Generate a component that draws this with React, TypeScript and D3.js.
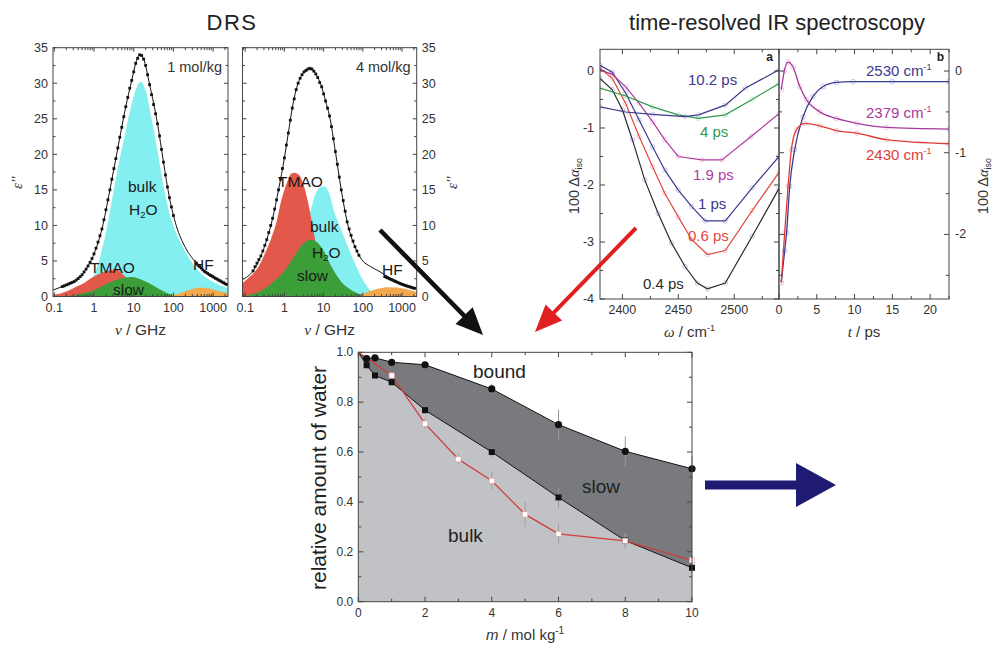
import React from "react";
import * as d3 from "d3";

type P = [number, number];

const SANS = "'Liberation Sans', Arial, Helvetica, sans-serif";
const SERIF = "'Liberation Serif', 'Times New Roman', serif";

// ---------------- DRS data: [log10(ν / GHz), ε''] ----------------
const drs1Total: P[] = [[-1.03,0.9],[-0.8,1.4],[-0.5,2.1],[-0.25,3.45],[0,6.0],[0.2,9.5],[0.4,15],[0.6,20.9],[0.8,26.7],[0.95,30.4],[1.05,32.8],[1.15,34.0],[1.25,33.4],[1.4,29.8],[1.6,24.3],[1.75,18.9],[1.9,13.9],[2.07,10],[2.3,6.9],[2.58,4.7],[2.8,3.5],[3.0,2.8],[3.2,2.1],[3.375,1.65]];
const drs1Dots: P[] = [[-0.80,1.40],[-0.75,1.50],[-0.70,1.62],[-0.65,1.74],[-0.60,1.86],[-0.55,1.98],[-0.50,2.10],[-0.45,2.30],[-0.40,2.52],[-0.35,2.78],[-0.30,3.05],[-0.25,3.45],[-0.20,3.85],[-0.15,4.30],[-0.10,4.80],[-0.05,5.35],[0.00,6.00],[0.05,6.80],[0.10,7.65],[0.15,8.55],[0.20,9.50],[0.25,10.8],[0.30,12.2],[0.35,13.6],[0.40,15.0],[0.45,16.5],[0.50,18.0],[0.55,19.4],[0.60,20.9],[0.65,22.4],[0.70,23.8],[0.75,25.3],[0.80,26.7],[0.85,28.0],[0.90,29.3],[0.95,30.4],[1.00,31.6],[1.05,32.8],[1.10,33.5],[1.15,34.0],[1.20,33.9],[1.25,33.4],[1.30,32.5],[1.35,31.2],[1.40,29.8],[1.45,28.4],[1.50,27.0],[1.55,25.7],[1.60,24.3],[1.65,22.6],[1.70,20.7],[1.75,18.9],[1.80,17.1],[1.85,15.4],[1.90,13.9],[1.95,12.6],[2.00,11.4],[2.58,4.7],[2.62,4.4],[2.66,4.2],[2.70,4.0],[2.74,3.75],[2.78,3.55],[2.82,3.4],[2.86,3.25],[2.90,3.1],[2.94,2.95],[2.98,2.85],[3.02,2.7],[3.06,2.55],[3.10,2.45],[3.14,2.3],[3.18,2.2],[3.22,2.05],[3.26,1.95],[3.30,1.8],[3.34,1.7]];
const drs1Bulk: P[] = [[-0.5,0],[-0.25,1.0],[0,3.0],[0.15,5.5],[0.3,9.0],[0.45,13.5],[0.6,18],[0.75,22],[0.9,26],[1.05,29],[1.17,30.2],[1.3,29],[1.45,25],[1.6,20.5],[1.77,15],[1.91,11.5],[2.08,8.8],[2.25,6.8],[2.42,5.2],[2.6,3.8],[2.84,2.6],[3.05,1.9],[3.26,1.4],[3.4,1.2]];
const drs1Tmao: P[] = [[-1.05,0.25],[-0.86,0.4],[-0.65,0.8],[-0.44,1.4],[-0.25,1.9],[-0.1,2.5],[0.1,3.1],[0.23,3.4],[0.4,3.7],[0.53,3.8],[0.65,3.5],[0.75,3.0],[0.85,2.4],[0.95,1.8],[1.1,1.0],[1.3,0.35],[1.5,0.05],[1.6,0]];
const drs1Slow: P[] = [[-0.7,0],[-0.4,0.3],[-0.02,0.85],[0.32,1.8],[0.65,2.5],[0.95,2.75],[1.24,2.25],[1.49,1.55],[1.75,0.75],[2.0,0.15],[2.2,0]];
const drs1Hf: P[] = [[1.85,0],[2.1,0.35],[2.42,0.95],[2.67,1.25],[3.0,1.0],[3.3,0.55],[3.4,0.45]];

const drs2Total: P[] = [[-1.07,2.4],[-0.8,3.6],[-0.6,5.7],[-0.45,8],[-0.3,11],[-0.15,15],[0,19.5],[0.1,23],[0.2,26.5],[0.3,29.1],[0.45,31.2],[0.6,32],[0.7,32],[0.8,31.3],[0.95,29.5],[1.05,27.5],[1.15,25.4],[1.3,20.4],[1.45,15],[1.6,10.5],[1.8,7],[1.97,5.2],[2.2,4.2],[2.4,3.6],[2.56,3.05],[2.8,2.3],[3.0,1.8],[3.2,1.4],[3.374,1.15]];
const drs2Dots: P[] = [[-0.80,3.6],[-0.75,4.2],[-0.70,4.7],[-0.65,5.2],[-0.60,5.7],[-0.55,6.4],[-0.50,7.2],[-0.45,8.0],[-0.40,9.0],[-0.35,10.0],[-0.30,11.0],[-0.25,12.3],[-0.20,13.6],[-0.15,15.0],[-0.10,16.5],[-0.05,18.0],[0.00,19.5],[0.05,21.3],[0.10,23.0],[0.15,24.8],[0.20,26.5],[0.25,27.8],[0.30,29.1],[0.35,30.0],[0.40,30.7],[0.45,31.2],[0.50,31.6],[0.55,31.8],[0.60,32.0],[0.65,32.1],[0.70,32.0],[0.75,31.7],[0.80,31.3],[0.85,30.8],[0.90,30.1],[0.95,29.5],[1.00,28.5],[1.05,27.5],[1.10,26.5],[1.15,25.4],[1.20,23.9],[1.25,22.2],[1.30,20.4],[1.35,18.6],[1.40,16.8],[1.45,15.0],[1.50,13.5],[1.55,12.0],[1.60,10.5],[1.65,9.5],[1.70,8.6],[1.75,7.8],[1.80,7.0],[1.85,6.4],[1.90,5.8],[2.56,2.8],[2.60,2.7],[2.64,2.6],[2.68,2.5],[2.72,2.4],[2.76,2.3],[2.80,2.2],[2.84,2.1],[2.88,2.0],[2.92,1.9],[2.96,1.8],[3.00,1.72],[3.04,1.64],[3.08,1.56],[3.12,1.48],[3.16,1.42],[3.20,1.35],[3.24,1.28],[3.28,1.2],[3.32,1.15]];
const drs2Bulk: P[] = [[-0.3,0],[0,2],[0.3,5.5],[0.5,9],[0.66,11.8],[0.78,14.3],[0.9,15.3],[1.01,15.5],[1.12,14.8],[1.29,11.6],[1.42,9.8],[1.55,7.9],[1.68,6.2],[1.8,4.6],[1.93,3.1],[2.06,1.8],[2.2,0.8],[2.35,0.2],[2.5,0]];
const drs2Tmao: P[] = [[-1.09,1.8],[-0.9,2.7],[-0.67,4.1],[-0.5,6.0],[-0.33,8.3],[-0.2,10.5],[-0.08,13.5],[0.05,15.8],[0.18,17.3],[0.25,17.4],[0.39,17.0],[0.5,15.5],[0.65,12],[0.75,9],[0.85,6],[1.0,3],[1.2,1],[1.5,0]];
const drs2Slow: P[] = [[-1.09,0.05],[-0.6,0.8],[-0.24,2.25],[0.0,3.6],[0.19,5.1],[0.44,7.2],[0.65,8.0],[0.75,7.9],[0.95,6.9],[1.21,4.1],[1.46,2.0],[1.72,0.85],[2.06,0.15],[2.3,0]];
const drs2Hf: P[] = [[1.9,0],[2.1,0.6],[2.39,1.1],[2.64,1.3],[3.07,1.1],[3.32,0.75],[3.4,0.7]];

const drsYTicks = [0, 5, 10, 15, 20, 25, 30, 35];
const drsXLabels = [0.1, 1, 10, 100, 1000];

// ---------------- IR panel a: [ω / cm-1, 100 Δα_iso] ----------------
const irA04: P[] = [[2380,-0.13],[2391,-0.33],[2400,-0.68],[2409,-1.21],[2420,-1.91],[2432,-2.5],[2444,-3.02],[2456,-3.43],[2467,-3.72],[2476,-3.82],[2492,-3.72],[2516,-2.9],[2540,-2.06]];
const irA06: P[] = [[2380,0.05],[2391,-0.13],[2403,-0.57],[2415,-1.15],[2427,-1.68],[2438,-2.15],[2450,-2.56],[2462,-2.96],[2476,-3.22],[2492,-3.15],[2516,-2.45],[2540,-1.78]];
const irA1: P[] = [[2380,0.1],[2391,-0.02],[2403,-0.39],[2415,-0.86],[2427,-1.33],[2438,-1.74],[2450,-2.09],[2462,-2.38],[2474,-2.63],[2492,-2.63],[2516,-2.05],[2540,-1.5]];
const irA19: P[] = [[2380,0.02],[2391,-0.06],[2403,-0.28],[2415,-0.57],[2427,-0.89],[2438,-1.21],[2450,-1.5],[2471,-1.56],[2489,-1.56],[2515,-1.15],[2540,-0.75]];
const irA4: P[] = [[2380,-0.3],[2403,-0.44],[2427,-0.63],[2450,-0.77],[2468,-0.83],[2492,-0.77],[2516,-0.5],[2540,-0.22]];
const irA102: P[] = [[2380,-0.63],[2403,-0.72],[2427,-0.76],[2456,-0.8],[2468,-0.77],[2492,-0.6],[2510,-0.3],[2540,0.02]];
const irADelays = ["0.4 ps", "0.6 ps", "1 ps", "1.9 ps", "4 ps", "10.2 ps"];
const irAXTicks = [2400, 2450, 2500];
const irAYTicks = [0, -1, -2, -3, -4];

// ---------------- IR panel b: [t / ps, 100 Δα_iso] ----------------
const irB2530: P[] = [[0.3,-2.59],[0.75,-2.2],[1.0,-1.98],[1.42,-1.41],[2.08,-0.96],[3.18,-0.56],[4.5,-0.31],[5.84,-0.19],[7.6,-0.14],[9.8,-0.13],[15,-0.13],[22.5,-0.13]];
const irB2379: P[] = [[0.3,-0.23],[0.7,0.0],[1.2,0.11],[1.86,0.05],[2.75,-0.19],[3.63,-0.35],[5.4,-0.5],[7.6,-0.58],[10.3,-0.64],[14.2,-0.69],[22.5,-0.71]];
const irB2430: P[] = [[0.3,-2.59],[0.75,-1.98],[1.2,-1.41],[1.64,-0.96],[2.3,-0.72],[3.4,-0.64],[5.4,-0.67],[7.6,-0.73],[10.3,-0.76],[14.2,-0.84],[22.5,-0.89]];
const irBFreqs = ["2530", "2379", "2430"];
const irBXTicks = [0, 5, 10, 15, 20];
const irBYTicks = [0, -1, -2];

// ---------------- Bottom: relative amount of water ----------------
const molality = [0, 0.25, 0.5, 1, 2, 4, 6, 8, 10];
const boundFrac = [1, 0.975, 0.978, 0.96, 0.95, 0.853, 0.71, 0.603, 0.533];
const boundErr = [0, 0, 0, 0.01, 0.01, 0.02, 0.06, 0.06, 0.05];
const slowFrac = [1, 0.948, 0.907, 0.88, 0.768, 0.6, 0.418, 0.245, 0.136];
const slowErr = [0, 0, 0, 0.01, 0.015, 0.02, 0.04, 0.03, 0.02];
const irMolality = [0, 1, 2, 3, 4, 5, 6, 8, 10];
const irFrac = [1, 0.907, 0.714, 0.571, 0.485, 0.35, 0.272, 0.244, 0.166];
const irErr = [0, 0.01, 0.02, 0.02, 0.035, 0.05, 0.04, 0.03, 0.02];
const fracTicks = [0, 0.2, 0.4, 0.6, 0.8, 1.0];
const mTicks = [0, 2, 4, 6, 8, 10];

// ---------------- helpers ----------------
type Box = { l: number; r: number; t: number; b: number };
type Tk = { p: number; major: boolean };

function tickPath(box: Box, xt: Tk[], yl: Tk[], yr: Tk[], maj = 5, min = 3) {
  let d = "";
  for (const t of xt) {
    const L = t.major ? maj : min;
    d += `M${t.p},${box.b}v${-L}M${t.p},${box.t}v${L}`;
  }
  for (const t of yl) d += `M${box.l},${t.p}h${t.major ? maj : min}`;
  for (const t of yr) d += `M${box.r},${t.p}h${-(t.major ? maj : min)}`;
  return d;
}

function linTicks(scale: d3.ScaleLinear<number, number>, lo: number, hi: number, step: number, majStep: number): Tk[] {
  const out: Tk[] = [];
  const n = Math.round((hi - lo) / step);
  for (let i = 0; i <= n; i++) {
    const v = lo + i * step;
    const r = v / majStep;
    out.push({ p: scale(v), major: Math.abs(r - Math.round(r)) < 1e-6 });
  }
  return out;
}

function arrowPath(x1: number, y1: number, x2: number, y2: number, w: number, hl: number, hw: number) {
  const dx = x2 - x1, dy = y2 - y1, L = Math.hypot(dx, dy);
  const ux = dx / L, uy = dy / L, nx = -uy, ny = ux;
  const bx = x2 - ux * hl, by = y2 - uy * hl;
  const pts = [
    [x1 + nx * w / 2, y1 + ny * w / 2], [bx + nx * w / 2, by + ny * w / 2], [bx + nx * hw / 2, by + ny * hw / 2],
    [x2, y2], [bx - nx * hw / 2, by - ny * hw / 2], [bx - nx * w / 2, by - ny * w / 2], [x1 - nx * w / 2, y1 - ny * w / 2],
  ];
  return "M" + pts.map((p) => p.map((v) => v.toFixed(1)).join(",")).join("L") + "Z";
}

const H2O = (x: number, y: number, fs: number) => (
  <text x={x} y={y} fontSize={fs} fontFamily={SANS} fill="#1a1a1a">
    H<tspan fontSize={fs * 0.62} dy={3}>2</tspan><tspan dy={-3}>O</tspan>
  </text>
);

// ---------------- DRS panel ----------------
function DrsPanel(props: {
  id: string; box: Box; dom: [number, number];
  total: P[]; dots: P[]; bulk: P[]; tmao: P[]; slow: P[]; hf: P[];
  side: "left" | "right"; conc: string;
  lab: { bulk: [number, number]; h2o: [number, number]; tmao: [number, number]; slow: [number, number]; hf: [number, number] };
}) {
  const { box, dom } = props;
  const x = d3.scaleLog().domain(dom).range([box.l, box.r]);
  const y = d3.scaleLinear().domain([0, 35]).range([box.b, box.t]);
  const fx = (d: P) => x(Math.pow(10, d[0]));
  const area = d3.area<P>().x(fx).y0(y(0)).y1((d) => y(d[1])).curve(d3.curveMonotoneX);
  const line = d3.line<P>().x(fx).y((d) => y(d[1])).curve(d3.curveMonotoneX);
  const xt: Tk[] = [];
  for (let e = -2; e <= 3; e++) for (let k = 1; k <= 9; k++) {
    const v = k * Math.pow(10, e);
    if (v >= dom[0] && v <= dom[1]) xt.push({ p: x(v), major: k === 1 });
  }
  const yt = linTicks(y, 0, 35, 2.5, 5);
  const fs = 15.5;
  return (
    <g>
      <defs>
        <clipPath id={props.id}><rect x={box.l} y={box.t} width={box.r - box.l} height={box.b - box.t} /></clipPath>
      </defs>
      <g clipPath={`url(#${props.id})`}>
        <path d={area(props.bulk) || ""} fill="#84eff0" />
        <path d={area(props.tmao) || ""} fill="#e2584b" />
        <path d={area(props.slow) || ""} fill="#3c9e38" />
        <path d={area(props.hf) || ""} fill="#f2a94e" />
        <path d={line(props.total) || ""} fill="none" stroke="#111" strokeWidth={1} />
        {props.dots.map((d, i) => (
          <rect key={i} x={fx(d) - 1.4} y={y(d[1]) - 1.4} width={2.8} height={2.8} fill="#111" />
        ))}
      </g>
      <rect x={box.l} y={box.t} width={box.r - box.l} height={box.b - box.t} fill="none" stroke="#444" strokeWidth={1} />
      <path d={tickPath(box, xt, yt, yt, 4, 2.5)} stroke="#444" strokeWidth={1} fill="none" />
      {drsXLabels.map((v) => (
        <text key={v} x={x(v)} y={box.b + 15} fontSize={12.5} fontFamily={SANS} textAnchor="middle" fill="#333">{v}</text>
      ))}
      {drsYTicks.map((v) => (
        <text key={v} x={props.side === "left" ? box.l - 5 : box.r + 5} y={y(v) + 4.5} fontSize={12.5} fontFamily={SANS}
          textAnchor={props.side === "left" ? "end" : "start"} fill="#333">{v}</text>
      ))}
      <text transform={`translate(${props.side === "left" ? 22 : box.r + 40},${y(16)}) rotate(-90)`} fontSize={15}
        fontFamily={SERIF} fontStyle="italic" textAnchor="middle" fill="#333">ε''</text>
      <text x={(box.l + box.r) / 2} y={box.b + 38} fontSize={15.5} fontFamily={SANS} textAnchor="middle" fill="#333">
        <tspan fontFamily={SERIF} fontStyle="italic">ν</tspan> / GHz
      </text>
      <text x={box.r - 6} y={box.t + 24} fontSize={14.5} fontFamily={SANS} textAnchor="end" fill="#333">{props.conc}</text>
      <text x={props.lab.bulk[0]} y={props.lab.bulk[1]} fontSize={fs} fontFamily={SANS} fill="#1a1a1a">bulk</text>
      {H2O(props.lab.h2o[0], props.lab.h2o[1], fs)}
      <text x={props.lab.tmao[0]} y={props.lab.tmao[1]} fontSize={fs} fontFamily={SANS} fill="#1a1a1a">TMAO</text>
      <text x={props.lab.slow[0]} y={props.lab.slow[1]} fontSize={fs} fontFamily={SANS} fill="#1a1a1a">slow</text>
      <text x={props.lab.hf[0]} y={props.lab.hf[1]} fontSize={fs} fontFamily={SANS} fill="#1a1a1a">HF</text>
    </g>
  );
}

// ---------------- main ----------------
export default function App() {
  // IR panel a
  const boxA: Box = { l: 600, r: 779, t: 49.3, b: 299 };
  const xA = d3.scaleLinear().domain([2380, 2540]).range([boxA.l, boxA.r]);
  const yA = d3.scaleLinear().domain([0.38, -4]).range([boxA.t, boxA.b]);
  const lineA = d3.line<P>().x((d) => xA(d[0])).y((d) => yA(d[1]));
  const seriesA = [irA04, irA06, irA1, irA19, irA4, irA102];
  const colA = ["#2b2b2b", "#e2463c", "#3a3a8e", "#b23a9f", "#2f9a4e", "#3a3a8e"];
  const markA = ["#c9c5e4", "#f5c9cf", "#c7c4e6", "#eec4ea", "#c4e6cf", "#d0cee8"];
  const labA: [number, number][] = [[643, 289], [688, 241], [698, 209], [693, 180], [700, 137], [688, 85]];

  // IR panel b
  const boxB: Box = { l: 779, r: 949, t: 49.3, b: 299 };
  const xB = d3.scaleLinear().domain([0, 22.5]).range([boxB.l, boxB.r]);
  const yB = d3.scaleLinear().domain([0.266, -2.79]).range([boxB.t, boxB.b]);
  const lineB = d3.line<P>().x((d) => xB(d[0])).y((d) => yB(d[1])).curve(d3.curveMonotoneX);
  const seriesB = [irB2530, irB2379, irB2430];
  const colB = ["#3a3a8e", "#a8399a", "#df3b36"];
  const markB = ["#c4c2e6", "#efc2e8", "#f5c8c9"];
  const labB: [number, number][] = [[866, 76], [866, 118], [866, 160]];

  // Bottom chart
  const boxC: Box = { l: 358.3, r: 692, t: 352.3, b: 601.7 };
  const xC = d3.scaleLinear().domain([0, 10]).range([boxC.l, boxC.r]);
  const yC = d3.scaleLinear().domain([0, 1]).range([boxC.b, boxC.t]);
  const rows = molality.map((m, i) => ({ m, b: boundFrac[i], s: slowFrac[i] }));
  const bulkArea = d3.area<typeof rows[0]>().x((d) => xC(d.m)).y0(yC(0)).y1((d) => yC(d.s));
  const slowArea = d3.area<typeof rows[0]>().x((d) => xC(d.m)).y0((d) => yC(d.s)).y1((d) => yC(d.b));
  const bLine = d3.line<typeof rows[0]>().x((d) => xC(d.m)).y((d) => yC(d.b));
  const sLine = d3.line<typeof rows[0]>().x((d) => xC(d.m)).y((d) => yC(d.s));
  const irRows = irMolality.map((m, i) => ({ m, f: irFrac[i] }));
  const irLine = d3.line<typeof irRows[0]>().x((d) => xC(d.m)).y((d) => yC(d.f));

  return (
    <svg width={992} height={646} style={{ position: "absolute", left: 0, top: 0, background: "#fff" }}>
      <rect width={992} height={646} fill="#fff" />
      <text x={232} y={30} fontSize={22} fontFamily={SANS} textAnchor="middle" fill="#222" letterSpacing={1.5}>DRS</text>
      <text x={777} y={30} fontSize={22} fontFamily={SANS} textAnchor="middle" fill="#222">time-resolved IR spectroscopy</text>

      <DrsPanel id="drs1" box={{ l: 53, r: 228, t: 47.7, b: 296.5 }} dom={[Math.pow(10, -1.033), Math.pow(10, 3.375)]}
        total={drs1Total} dots={drs1Dots} bulk={drs1Bulk} tmao={drs1Tmao} slow={drs1Slow} hf={drs1Hf}
        side="left" conc="1 mol/kg"
        lab={{ bulk: [128, 192], h2o: [129, 215], tmao: [90, 273], slow: [113, 295], hf: [193, 270] }} />
      <DrsPanel id="drs2" box={{ l: 242.5, r: 416.7, t: 47.7, b: 296.5 }} dom={[Math.pow(10, -1.069), Math.pow(10, 3.374)]}
        total={drs2Total} dots={drs2Dots} bulk={drs2Bulk} tmao={drs2Tmao} slow={drs2Slow} hf={drs2Hf}
        side="right" conc="4 mol/kg"
        lab={{ bulk: [310, 232], h2o: [312, 258], tmao: [278, 187], slow: [297, 281], hf: [382, 275] }} />

      {/* IR panel a */}
      <defs>
        <clipPath id="clipA"><rect x={boxA.l} y={boxA.t} width={boxA.r - boxA.l} height={boxA.b - boxA.t} /></clipPath>
        <clipPath id="clipB"><rect x={boxB.l} y={boxB.t} width={boxB.r - boxB.l} height={boxB.b - boxB.t} /></clipPath>
      </defs>
      <g clipPath="url(#clipA)">
        {seriesA.map((s, i) =>
          s.map((d, j) => (
            <circle key={`ma${i}-${j}`} cx={xA(d[0])} cy={yA(d[1])} r={2.2} fill="none" stroke={markA[i]} strokeWidth={1} />
          ))
        )}
        {seriesA.map((s, i) => (
          <path key={`la${i}`} d={lineA(s) || ""} fill="none" stroke={colA[i]} strokeWidth={1.2} />
        ))}
      </g>
      <rect x={boxA.l} y={boxA.t} width={boxA.r - boxA.l} height={boxA.b - boxA.t} fill="none" stroke="#444" />
      <path d={tickPath(boxA, linTicks(xA, 2400, 2525, 25, 50), linTicks(yA, -4, 0, 0.5, 1), linTicks(yA, -4, 0, 0.5, 1), 5, 3)}
        stroke="#444" fill="none" />
      {irAXTicks.map((v) => (
        <text key={v} x={xA(v)} y={boxA.b + 15} fontSize={12.5} fontFamily={SANS} textAnchor="middle" fill="#333">{v}</text>
      ))}
      {irAYTicks.map((v) => (
        <text key={v} x={boxA.l - 6} y={yA(v) + 4} fontSize={12.5} fontFamily={SANS} textAnchor="end" fill="#333">{v}</text>
      ))}
      {irADelays.map((t, i) => (
        <text key={t} x={labA[i][0]} y={labA[i][1]} fontSize={15} fontFamily={SANS} fill={colA[i]}>{t}</text>
      ))}
      <text x={boxA.r - 6} y={boxA.t + 12} fontSize={12} fontWeight="bold" fontFamily={SANS} textAnchor="end" fill="#222">a</text>
      <text transform={`translate(579,186) rotate(-90)`} fontSize={14.5} fontFamily={SANS} textAnchor="middle" fill="#333">
        100 Δ<tspan fontFamily={SERIF} fontStyle="italic">α</tspan><tspan fontSize={9} dy={3}>iso</tspan>
      </text>
      <text x={(boxA.l + boxA.r) / 2} y={337} fontSize={15} fontFamily={SANS} textAnchor="middle" fill="#333">
        <tspan fontFamily={SERIF} fontStyle="italic">ω</tspan> / cm<tspan fontSize={9} dy={-6}>-1</tspan>
      </text>

      {/* IR panel b */}
      <g clipPath="url(#clipB)">
        {seriesB.map((s, i) =>
          s.map((d, j) => (
            <circle key={`mb${i}-${j}`} cx={xB(d[0])} cy={yB(d[1])} r={2.3} fill="none" stroke={markB[i]} strokeWidth={1} />
          ))
        )}
        {seriesB.map((s, i) => (
          <path key={`lb${i}`} d={lineB(s) || ""} fill="none" stroke={colB[i]} strokeWidth={1.3} />
        ))}
      </g>
      <rect x={boxB.l} y={boxB.t} width={boxB.r - boxB.l} height={boxB.b - boxB.t} fill="none" stroke="#444" />
      <path d={tickPath(boxB, linTicks(xB, 0, 22.5, 2.5, 5), linTicks(yB, -2.5, 0, 0.5, 1), linTicks(yB, -2.5, 0, 0.5, 1), 5, 3)}
        stroke="#444" fill="none" />
      {irBXTicks.map((v) => (
        <text key={v} x={xB(v)} y={boxB.b + 15} fontSize={12.5} fontFamily={SANS} textAnchor="middle" fill="#333">{v}</text>
      ))}
      {irBYTicks.map((v) => (
        <text key={v} x={boxB.r + 6} y={yB(v) + 4} fontSize={12.5} fontFamily={SANS} textAnchor="start" fill="#333">{v}</text>
      ))}
      {irBFreqs.map((f, i) => (
        <text key={f} x={labB[i][0]} y={labB[i][1]} fontSize={15} fontFamily={SANS} fill={colB[i]}>
          {f} cm<tspan fontSize={9} dy={-6}>-1</tspan>
        </text>
      ))}
      <text x={boxB.r - 5} y={boxB.t + 12} fontSize={12} fontWeight="bold" fontFamily={SANS} textAnchor="end" fill="#222">b</text>
      <text transform={`translate(988,186) rotate(-90)`} fontSize={14.5} fontFamily={SANS} textAnchor="middle" fill="#333">
        100 Δ<tspan fontFamily={SERIF} fontStyle="italic">α</tspan><tspan fontSize={9} dy={3}>iso</tspan>
      </text>
      <text x={(boxB.l + boxB.r) / 2} y={337} fontSize={15} fontFamily={SANS} textAnchor="middle" fill="#333">
        <tspan fontFamily={SERIF} fontStyle="italic">t</tspan> / ps
      </text>

      {/* bottom chart */}
      <path d={bulkArea(rows) || ""} fill="#c1c2c6" />
      <path d={slowArea(rows) || ""} fill="#787a7e" />
      {molality.map((m, i) => boundErr[i] > 0 ? (
        <line key={`eb${i}`} x1={xC(m)} x2={xC(m)} y1={yC(boundFrac[i] - boundErr[i])} y2={yC(boundFrac[i] + boundErr[i])} stroke="#9a9a9a" strokeWidth={1} />
      ) : null)}
      {molality.map((m, i) => slowErr[i] > 0 ? (
        <line key={`es${i}`} x1={xC(m)} x2={xC(m)} y1={yC(slowFrac[i] - slowErr[i])} y2={yC(slowFrac[i] + slowErr[i])} stroke="#9a9a9a" strokeWidth={1} />
      ) : null)}
      {irMolality.map((m, i) => irErr[i] > 0 ? (
        <line key={`ei${i}`} x1={xC(m)} x2={xC(m)} y1={yC(irFrac[i] - irErr[i])} y2={yC(irFrac[i] + irErr[i])} stroke="#a0a0a0" strokeWidth={1} />
      ) : null)}
      <path d={bLine(rows) || ""} fill="none" stroke="#111" strokeWidth={1} />
      <path d={sLine(rows) || ""} fill="none" stroke="#111" strokeWidth={1} />
      <path d={irLine(irRows) || ""} fill="none" stroke="#d23b3b" strokeWidth={1.3} />
      {rows.slice(1).map((d, i) => (
        <circle key={`cb${i}`} cx={xC(d.m)} cy={yC(d.b)} r={3.6} fill="#111" />
      ))}
      {rows.slice(1).map((d, i) => (
        <rect key={`cs${i}`} x={xC(d.m) - 3} y={yC(d.s) - 3} width={6} height={6} fill="#111" />
      ))}
      {irRows.slice(1).map((d, i) => (
        <rect key={`ci${i}`} x={xC(d.m) - 2.6} y={yC(d.f) - 2.6} width={5.2} height={5.2} fill="#fff" stroke="#e6a0a0" strokeWidth={0.6} />
      ))}
      <rect x={boxC.l} y={boxC.t} width={boxC.r - boxC.l} height={boxC.b - boxC.t} fill="none" stroke="#444" />
      <path d={tickPath(boxC, linTicks(xC, 0, 10, 1, 2), linTicks(yC, 0, 1, 0.1, 0.2), linTicks(yC, 0, 1, 0.1, 0.2), 5, 3)}
        stroke="#444" fill="none" />
      {mTicks.map((v) => (
        <text key={v} x={xC(v)} y={boxC.b + 15} fontSize={12} fontFamily={SANS} textAnchor="middle" fill="#333">{v}</text>
      ))}
      {fracTicks.map((v) => (
        <text key={v} x={boxC.l - 5} y={yC(v) + 4} fontSize={12} fontFamily={SANS} textAnchor="end" fill="#333">{v.toFixed(1)}</text>
      ))}
      <text x={473} y={378} fontSize={19} fontFamily={SANS} fill="#222">bound</text>
      <text x={582} y={493} fontSize={19} fontFamily={SANS} fill="#222">slow</text>
      <text x={448} y={542} fontSize={19} fontFamily={SANS} fill="#222">bulk</text>
      <text transform={`translate(326,478) rotate(-90)`} fontSize={21} fontFamily={SANS} textAnchor="middle" fill="#222">
        relative amount of water
      </text>
      <text x={(boxC.l + boxC.r) / 2} y={640} fontSize={15} fontFamily={SANS} textAnchor="middle" fill="#333">
        <tspan fontStyle="italic">m</tspan> / mol kg<tspan fontSize={10} dy={-6}>-1</tspan>
      </text>

      {/* arrows */}
      <path d={arrowPath(380, 230, 483, 335, 4.5, 27, 24)} fill="#111" />
      <path d={arrowPath(636, 228, 535, 332, 4, 27, 23)} fill="#e02020" />
      <path d={arrowPath(705, 485, 836, 485, 9, 40, 44)} fill="#1f1b72" />
    </svg>
  );
}
